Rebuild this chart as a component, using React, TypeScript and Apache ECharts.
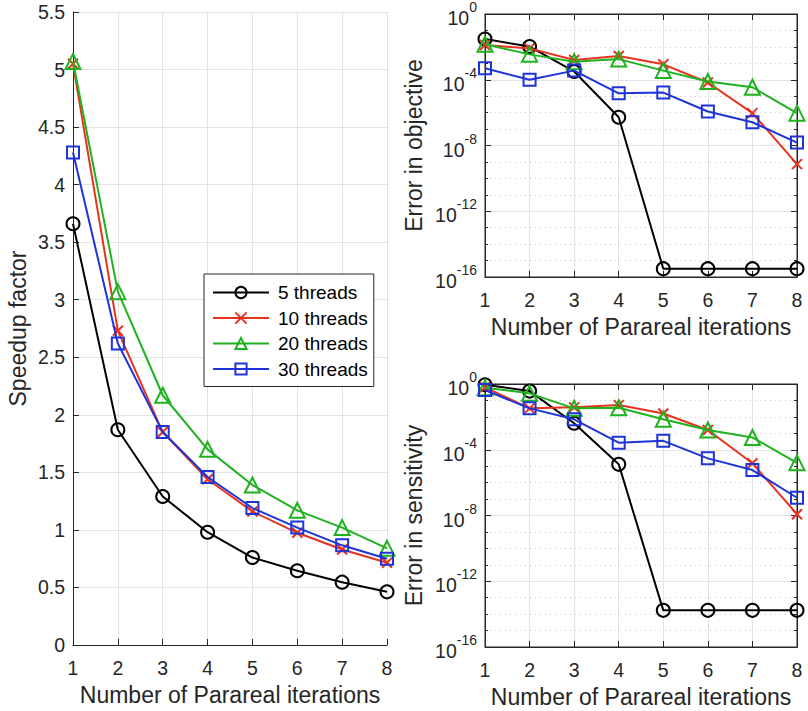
import React, { useEffect, useRef } from "react";
import * as echarts from "echarts";

const iterations = [1, 2, 3, 4, 5, 6, 7, 8];
const seriesNames = ["5 threads", "10 threads", "20 threads", "30 threads"];

const speedup5 = [3.66, 1.87, 1.29, 0.98, 0.76, 0.645, 0.546, 0.462];
const speedup10 = [5.05, 2.73, 1.85, 1.44, 1.16, 0.975, 0.83, 0.715];
const speedup20 = [5.07, 3.07, 2.17, 1.7, 1.39, 1.17, 1.02, 0.84];
const speedup30 = [4.28, 2.62, 1.85, 1.46, 1.19, 1.02, 0.866, 0.75];

const objective5 = [3.0e-2, 1.05e-2, 3.2e-4, 5.2e-7, 3.2e-16, 3.2e-16, 3.2e-16, 3.2e-16];
const objective10 = [1.3e-2, 8.1e-3, 1.6e-3, 2.8e-3, 8.7e-4, 6.8e-5, 9.3e-7, 7.4e-10];
const objective20 = [1.45e-2, 3.5e-3, 1.26e-3, 1.8e-3, 3.6e-4, 7.8e-5, 3.5e-5, 9.3e-7];
const objective30 = [5.0e-4, 1.0e-4, 3.6e-4, 1.5e-5, 1.66e-5, 1.17e-6, 2.6e-7, 1.5e-8];

const sensitivity5 = [0.9, 0.37, 4.1e-3, 1.3e-5, 1.7e-14, 1.7e-14, 1.7e-14, 1.7e-14];
const sensitivity10 = [0.63, 3.3e-2, 3.8e-2, 5.2e-2, 1.6e-2, 1.6e-3, 1.5e-5, 1.2e-8];
const sensitivity20 = [0.6, 0.27, 3.3e-2, 3.6e-2, 7.1e-3, 1.6e-3, 5.6e-4, 1.6e-5];
const sensitivity30 = [0.43, 3.3e-2, 7.1e-3, 2.7e-4, 3.5e-4, 3.0e-5, 5.8e-6, 1.2e-7];

const logTicks = [-16, -12, -8, -4, 0];

const COLORS = ["#000000", "#E8321E", "#1FB21F", "#1F34D8"];
const SYMBOLS = [
  "circle",
  "path://M0,0L10,10M10,0L0,10",
  "triangle",
  "rect",
];
const SIZES = [13, 10, 15, 12];
const TXT = "#262626";
const FONT = "Liberation Sans, Arial, Helvetica, sans-serif";

export default function App() {
  const ref = useRef<HTMLDivElement>(null);
  useEffect(() => {
    document.body.style.margin = "0";
    if (!ref.current) return;
    const chart = echarts.init(ref.current, undefined, { renderer: "svg" });

    const grids = [
      { left: 73, top: 12, width: 314, height: 635 },
      { left: 485, top: 14, width: 312, height: 263, show: true, borderColor: TXT, borderWidth: 1 },
      { left: 485, top: 384, width: 312, height: 263, show: true, borderColor: TXT, borderWidth: 1 },
    ];

    const xMain = (gi: number, nameGap: number) => ({
      type: "value",
      gridIndex: gi,
      min: 1,
      max: 8,
      interval: 1,
      name: "Number of Parareal iterations",
      nameLocation: "middle",
      nameGap,
      nameTextStyle: { fontSize: 23, color: TXT, fontFamily: FONT },
      axisLine: { show: true, onZero: false, lineStyle: { color: TXT, width: 1 } },
      axisTick: { show: true, inside: true, length: 6, lineStyle: { color: TXT } },
      axisLabel: { fontSize: 19.5, color: TXT, fontFamily: FONT, margin: 13 },
      splitLine: { show: true, lineStyle: { color: "#e3e3e3", width: 1 } },
    });

    const xTop = (gi: number) => ({
      type: "value",
      gridIndex: gi,
      position: "top",
      min: 1,
      max: 8,
      interval: 1,
      axisLine: { show: true, onZero: false, lineStyle: { color: TXT } },
      axisTick: { show: true, inside: true, length: 6, lineStyle: { color: TXT } },
      axisLabel: { show: false },
      splitLine: { show: false },
    });

    const yLog = (gi: number, name: string) => ({
      type: "value",
      gridIndex: gi,
      min: -16,
      max: 0,
      interval: 4,
      name,
      nameLocation: "middle",
      nameGap: 60,
      nameTextStyle: { fontSize: 23, color: TXT, fontFamily: FONT },
      axisLine: { show: true, onZero: false, lineStyle: { color: TXT } },
      axisTick: { show: true, inside: true, length: 6, lineStyle: { color: TXT } },
      minorTick: { show: true, splitNumber: 4, length: 3, lineStyle: { color: TXT } },
      minorSplitLine: { show: true, lineStyle: { color: "#c8c8c8", type: [1, 4], width: 1 } },
      axisLabel: {
        color: TXT,
        fontFamily: FONT,
        margin: 8,
        formatter: (v: number) =>
          logTicks.includes(Math.round(v)) ? `{b|10}{s|${Math.round(v)}}` : "",
        rich: {
          b: { fontSize: 19.5, color: TXT, fontFamily: FONT, verticalAlign: "bottom", lineHeight: 28 },
          s: { fontSize: 14, color: TXT, fontFamily: FONT, verticalAlign: "top", lineHeight: 28 },
        },
      },
      splitLine: { show: true, lineStyle: { color: "#e3e3e3", width: 1 } },
    });

    const yRight = (gi: number) => ({
      type: "value",
      gridIndex: gi,
      position: "right",
      min: -16,
      max: 0,
      interval: 4,
      axisLine: { show: true, onZero: false, lineStyle: { color: TXT } },
      axisTick: { show: true, inside: true, length: 6, lineStyle: { color: TXT } },
      minorTick: { show: true, splitNumber: 4, length: 3, lineStyle: { color: TXT } },
      axisLabel: { show: false },
      splitLine: { show: false },
    });

    const speedData = [speedup5, speedup10, speedup20, speedup30];
    const objData = [objective5, objective10, objective20, objective30];
    const senData = [sensitivity5, sensitivity10, sensitivity20, sensitivity30];

    const mk = (k: number, vals: number[], axis: number, log: boolean) => ({
      type: "line",
      name: seriesNames[k],
      xAxisIndex: axis,
      yAxisIndex: axis,
      data: iterations.map((x, i) => [x, log ? Math.log10(vals[i]) : vals[i]]),
      symbol: SYMBOLS[k],
      symbolSize: SIZES[k],
      symbolKeepAspect: true,
      showAllSymbol: true,
      clip: false,
      color: COLORS[k],
      lineStyle: { color: COLORS[k], width: 2 },
      itemStyle: { color: "rgba(0,0,0,0)", borderColor: COLORS[k], borderWidth: 2 },
      z: 2 + k,
    });

    const series: any[] = [];
    for (let k = 0; k < 4; k++) {
      series.push(mk(k, speedData[k], 0, false));
      series.push(mk(k, objData[k], 1, true));
      series.push(mk(k, senData[k], 2, true));
    }

    chart.setOption({
      animation: false,
      backgroundColor: "#ffffff",
      textStyle: { fontFamily: FONT },
      grid: grids,
      legend: {
        data: seriesNames,
        orient: "vertical",
        left: 204,
        top: 274,
        itemWidth: 56,
        itemHeight: 14,
        itemGap: 6.5,
        padding: [9, 6, 8, 8],
        borderColor: TXT,
        borderWidth: 1,
        backgroundColor: "#ffffff",
        textStyle: { fontSize: 19, lineHeight: 14, color: "#000", fontFamily: FONT, padding: [0, 0, 0, 4] },
        selectedMode: false,
      },
      xAxis: [xMain(0, 38), xMain(1, 38), xMain(2, 38), xTop(1), xTop(2)],
      yAxis: [
        {
          type: "value",
          gridIndex: 0,
          min: 0,
          max: 5.5,
          interval: 0.5,
          name: "Speedup factor",
          nameLocation: "middle",
          nameGap: 44,
          nameTextStyle: { fontSize: 23, color: TXT, fontFamily: FONT },
          axisLine: { show: true, onZero: false, lineStyle: { color: TXT } },
          axisTick: { show: true, inside: true, length: 6, lineStyle: { color: TXT } },
          axisLabel: { fontSize: 19.5, color: TXT, fontFamily: FONT, margin: 8 },
          splitLine: { show: true, lineStyle: { color: "#e3e3e3", width: 1 } },
        },
        yLog(1, "Error in objective"),
        yLog(2, "Error in sensitivity"),
        yRight(1),
        yRight(2),
      ],
      series,
    });
    return () => chart.dispose();
  }, []);
  return <div ref={ref} style={{ width: 808, height: 711 }} />;
}
